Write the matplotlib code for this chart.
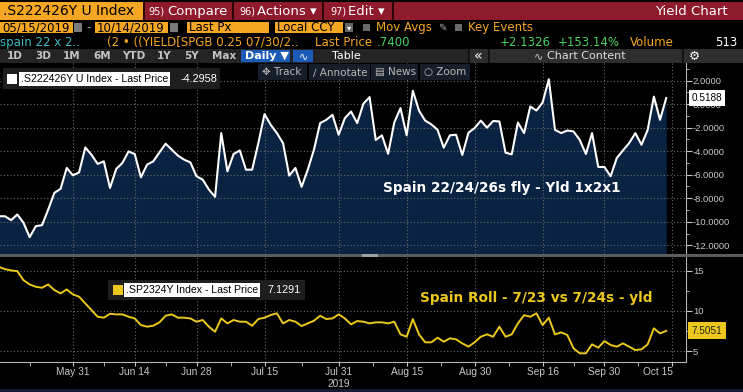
import numpy as np
import pandas as pd
import matplotlib
matplotlib.use("Agg")
import matplotlib.pyplot as plt
from matplotlib.patches import Rectangle
from matplotlib.ticker import FixedLocator, FuncFormatter, MultipleLocator

# daily (business-day) observations 15 May - 14 Oct 2019
dates = pd.bdate_range("2019-05-15", "2019-10-14")

# Spain 22/24/26s fly, yld 1x2x1 (bp)
fly = [-9.53, -9.53, -9.86, -9.38, -10.08, -11.31, -10.37, -10.29, -8.96, -7.54,
       -7.20, -5.42, -6.05, -5.80, -3.68, -4.30, -5.08, -4.86, -7.12, -5.51,
       -5.00, -4.02, -4.24, -6.22, -5.14, -4.86, -4.10, -3.36, -3.87, -4.38,
       -4.72, -4.95, -6.13, -6.42, -7.26, -7.88, -2.46, -5.71, -4.24, -3.93,
       -5.57, -5.57, -3.31, -0.85, -1.75, -2.46, -3.31, -6.08, -5.42, -7.03,
       -5.57, -3.87, -1.61, -1.33, -0.91, -2.60, -1.19, -0.63, -1.61, 0.04,
       0.60, -3.05, -2.65, -4.22, -1.55, -0.34, -2.65, 1.14, -0.55, -1.40,
       -1.72, -2.18, -3.70, -2.65, -2.60, -4.32, -2.43, -2.03, -1.40, -2.00,
       -1.43, -1.47, -4.12, -4.27, -1.56, -2.46, -0.20, -0.54, 0.14, 2.12,
       -2.18, -2.46, -2.24, -2.32, -3.03, -4.24, -2.46, -5.34, -5.34, -6.13,
       -4.58, -3.93, -3.31, -2.46, -3.45, -2.18, 0.64, -1.33, 0.5188]

# Spain roll 7/23 vs 7/24s (bp)
roll = [15.49, 15.20, 15.03, 14.95, 13.83, 13.29, 13.00, 12.88, 13.29, 12.59,
        12.17, 12.67, 12.05, 11.76, 10.93, 10.10, 9.27, 9.15, 9.64, 9.56,
        9.56, 9.27, 9.06, 8.23, 8.03, 8.15, 8.57, 9.39, 9.56, 9.15,
        9.15, 9.06, 8.65, 8.86, 8.03, 7.40, 9.06, 8.44, 8.86, 8.65,
        8.65, 8.15, 8.98, 9.15, 9.48, 9.69, 8.44, 8.86, 8.65, 8.11,
        8.44, 8.77, 9.39, 8.98, 9.06, 9.56, 9.06, 8.32, 8.73, 8.65,
        8.44, 8.57, 8.57, 8.44, 8.65, 7.07, 6.78, 8.98, 7.07, 6.08,
        6.08, 6.66, 6.16, 6.58, 6.45, 5.95, 5.54, 6.08, 6.78, 7.07,
        6.78, 8.03, 6.78, 7.07, 8.44, 9.46, 9.27, 9.69, 8.23, 9.15,
        7.07, 7.32, 6.99, 5.33, 4.71, 4.71, 5.83, 5.41, 6.24, 5.75,
        5.54, 5.95, 5.54, 5.12, 5.21, 5.83, 7.82, 7.20, 7.5051]

tick_days = ["2019-05-31", "2019-06-14", "2019-06-28", "2019-07-15", "2019-07-31",
             "2019-08-15", "2019-08-30", "2019-09-16", "2019-09-30", "2019-10-15"]
tick_labels = ["May 31", "Jun 14", "Jun 28", "Jul 15", "Jul 31\n2019",
               "Aug 15", "Aug 30", "Sep 16", "Sep 30", "Oct 15"]

W, H = 743, 392
ORANGE = "#f5a623"
RED = "#8f1a2c"
GREEN = "#49d160"
NAVY = "#0a2342"
YELLOW = "#ecc81c"
CF = ["Liberation Sans"]                  # chart-area font
plt.rcParams["font.family"] = ["DejaVu Sans"]

x = np.arange(len(dates))
ext = pd.bdate_range(dates[0], "2019-10-31")
major = [ext.get_loc(pd.Timestamp(d)) for d in tick_days]
minor = [major[0] - 7] + [(a + b) / 2 for a, b in zip(major[:-1], major[1:])]


def rect(x0, y0, x1, y1):                      # pixel box -> figure fraction
    return [x0 / W, 1 - y1 / H, (x1 - x0) / W, (y1 - y0) / H]


fig = plt.figure(figsize=(W / 100, H / 100), dpi=100, facecolor="black")
ax1 = fig.add_axes(rect(0, 63, 686, 254))
ax2 = fig.add_axes(rect(0, 257, 686, 362))

for ax in (ax1, ax2):
    ax.set_facecolor("black")
    ax.set_xlim(0.2, 111.2)
    for s in ("top", "left", "bottom"):
        ax.spines[s].set_visible(False)
    ax.spines["right"].set_color("#b5b5b5")
    ax.yaxis.tick_right()
    ax.xaxis.set_major_locator(FixedLocator(major))
    ax.xaxis.set_minor_locator(FixedLocator(minor))
    ax.grid(True, which="major", color="#6a6a6a", linestyle=(0, (1, 2)), lw=0.8)
    ax.set_axisbelow("line")
    ax.tick_params(axis="y", which="both", direction="out", colors="#c8c8c8",
                   labelsize=6.8, pad=1)
    ax.tick_params(axis="y", which="major", length=4)
    ax.tick_params(axis="y", which="minor", length=2.5)

# top panel: fly
ax1.set_ylim(-12.74, 3.50)
ax1.fill_between(x, fly, -20, color=NAVY, lw=0, zorder=1)
ax1.plot(x, fly, color="white", lw=1.5, zorder=3)
ax1.yaxis.set_major_locator(FixedLocator(np.arange(-12, 3, 2)))
ax1.yaxis.set_minor_locator(MultipleLocator(1))
ax1.yaxis.set_major_formatter(FuncFormatter(lambda v, p: f"{v:.4f}"))
ax1.tick_params(axis="x", which="both", bottom=False, labelbottom=False)
ax1.text(0.558, 0.346, "Spain 22/24/26s fly - Yld 1x2x1", transform=ax1.transAxes,
         color="white", fontsize=9.8, fontweight="bold", va="center")
ax1.annotate(f"{fly[-1]:.4f}", xy=(1, fly[-1]), xycoords=("axes fraction", "data"),
             xytext=(4, 0), textcoords="offset points", va="center", fontsize=7.2,
             family=CF, color="black",
             bbox=dict(boxstyle="square,pad=0.3", fc="white", ec="none"))

# bottom panel: roll
ax2.set_ylim(3.63, 16.71)
ax2.plot(x, roll, color=YELLOW, lw=1.4, zorder=3)
ax2.yaxis.set_major_locator(FixedLocator([5, 10, 15]))
ax2.yaxis.set_minor_locator(MultipleLocator(2.5))
ax2.yaxis.set_major_formatter(FuncFormatter(lambda v, p: f"{v:.0f}"))
ax2.spines["bottom"].set_visible(True)
ax2.spines["bottom"].set_color("#b5b5b5")
ax2.set_xticklabels(tick_labels)
ax2.tick_params(axis="x", which="both", direction="out", colors="#c8c8c8",
                labelsize=7.3, length=3, pad=0.5)
for ax in (ax1, ax2):
    for lbl in ax.get_yticklabels() + ax.get_xticklabels():
        lbl.set_family(CF)
for lbl in ax2.get_xticklabels():
    lbl.set_linespacing(1.3)
ax2.get_xticklabels()[-1].set_horizontalalignment("right")
ax2.text(0.612, 0.61, "Spain Roll - 7/23 vs 7/24s - yld", transform=ax2.transAxes,
         color=YELLOW, fontsize=9.8, fontweight="bold", va="center")
ax2.annotate(f"{roll[-1]:.4f}", xy=(1, roll[-1]), xycoords=("axes fraction", "data"),
             xytext=(4, 0), textcoords="offset points", va="center", fontsize=7.2,
             family=CF, color="#222222",
             bbox=dict(boxstyle="square,pad=0.35", fc=YELLOW, ec="none"))

# overlay: terminal header, toolbars, legends
ov = fig.add_axes([0, 0, 1, 1])
ov.set_xlim(0, W); ov.set_ylim(H, 0); ov.axis("off")
ov.patch.set_alpha(0)


def box(x0, y0, x1, y1, c):
    ov.add_patch(Rectangle((x0, y0), x1 - x0, y1 - y0, color=c, lw=0))


def txt(xx, yy, s, c="white", size=8.5, **kw):
    ov.text(xx, yy, s, color=c, fontsize=size, va="center", **kw)


# row 1
box(0, 2, 143, 20, ORANGE)
txt(3, 11, ".S222426Y U Index", "black", 10)
box(143, 2, W, 20, RED)
for xs in (143, 232, 322, 392):
    box(xs, 2, xs + 2, 20, "#2a0608")
txt(148, 11.5, "95)", size=7); txt(167, 11, "Compare", size=9.5)
txt(239, 11.5, "96)", size=7); txt(257, 11, "Actions ▾", size=9.5)
txt(330, 11.5, "97)", size=7); txt(348, 11, "Edit ▾", size=9.5)
txt(728, 11, "Yield Chart", size=9.5, ha="right")

# row 2
for x0, x1, s in [(0, 73, "05/15/2019"), (95, 168, "10/14/2019"),
                  (187, 269, "Last Px"), (275, 343, "Local CCY")]:
    box(x0, 22, x1, 33, ORANGE)
    txt(x0 + 2, 27.5, s, "black", 8.5)
box(74, 23, 82, 32, "#7a7a7a"); box(170, 23, 178, 32, "#7a7a7a")
txt(86, 27.5, "-", "#aaaaaa")
box(345, 23, 353, 32, "#666666"); txt(349, 28, "▾", size=6, ha="center")
box(363, 24, 370, 31, "#6a6a6a"); txt(376, 27.5, "Mov Avgs", ORANGE)
txt(438, 27.5, "✎", "#aaaaaa", 7.5)
box(455, 24, 462, 31, "#6a6a6a"); txt(468, 27.5, "Key Events", ORANGE)

# row 3
txt(0, 42, "spain 22 x 2..", "#3dbcc4")
txt(107, 42, "(2 • ((YIELD[SPGB 0.25 07/30/2..", ORANGE)
txt(315, 42, "Last Price", ORANGE)
txt(377, 42, ".7400", GREEN)
txt(500, 42, "+2.1326", GREEN)
txt(558, 42, "+153.14%", GREEN)
txt(630, 42, "Volume", ORANGE)
txt(737, 42, "513", ha="right")

# row 4
box(0, 49, 468, 63, "#242424"); box(468, 49, W, 63, "#2e2e2e")
for s, xs in [("1D", 7), ("3D", 35), ("1M", 63), ("6M", 93), ("YTD", 122),
              ("1Y", 157), ("5Y", 184), ("Max", 212)]:
    txt(xs, 56, s, "#c4c4c4", 7.5, fontweight="bold")
box(241, 50, 290, 62, "#1c5bb8"); txt(245, 56, "Daily ▼", size=8, fontweight="bold")
box(293, 50, 313, 62, "#1c5bb8"); txt(303, 56, "∿", size=8, ha="center")
txt(332, 56, "Table", size=8)
for xs in (468, 488, 682):
    box(xs, 49, xs + 2, 63, "#121212")
txt(478, 55.5, "«", size=10, ha="center")
txt(534, 56, "∿", "#cccccc", 8); txt(547, 56, "Chart Content", "#dddddd", 8)
txt(694, 56, "⚙", size=9, ha="center")

# chart toolbar
for x0, x1, s in [(258, 307, "✥ Track"), (309, 370, "∕ Annotate"),
                  (371, 418, "▤ News"), (420, 470, "○ Zoom")]:
    box(x0, 64, x1, 80, "#161e2a")
    txt(x0 + 4, 72, s, "#b8b8b8", 7.5)

# legends
box(3, 68, 220, 89, "#1e1e1e"); box(7, 74, 17, 84, "white")
ov.text(21, 79, ".S222426Y U Index - Last Price", color="black", fontsize=7.6,
        family=CF, va="center", bbox=dict(boxstyle="square,pad=0.15", fc="white", ec="none"))
ov.text(181, 79, "-4.2958", color="white", fontsize=7.8, family=CF, va="center")
box(108, 280, 305, 300, "#1e1e1e"); box(113, 285, 123, 295, YELLOW)
ov.text(126, 290, ".SP2324Y Index - Last Price", color="black", fontsize=7.6,
        family=CF, va="center", bbox=dict(boxstyle="square,pad=0.15", fc="white", ec="none"))
ov.text(268, 290, "7.1291", color="white", fontsize=7.8, family=CF, va="center")

# panel divider and bottom strip
box(0, 254, W, 257, "#5c5c5c"); box(362, 254, 378, 257, "#a0a0a0")
box(0, 389, W, H, "#181a33")

fig.savefig("out.png", dpi=100, facecolor="black")
